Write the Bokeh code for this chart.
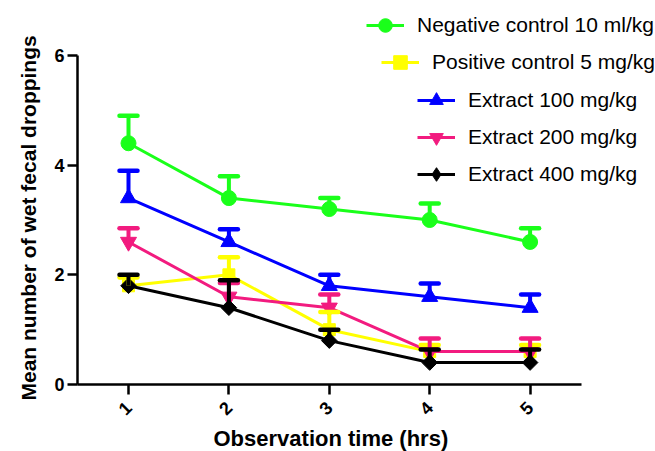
import math
from bokeh.plotting import figure
from bokeh.models import (ColumnDataSource, Range1d, Whisker, TeeHead, Legend,
                          LegendItem, FixedTicker, Title)
from bokeh.embed import file_html
from bokeh.resources import INLINE

hours = [1, 2, 3, 4, 5]
neg_mean = [4.4, 3.4, 3.2, 3.0, 2.6]
neg_top = [4.9, 3.8, 3.4, 3.3, 2.85]
pos_mean = [1.8, 2.0, 1.0, 0.6, 0.6]
pos_top = [1.95, 2.32, 1.32, 0.72, 0.72]
e100_mean = [3.4, 2.6, 1.8, 1.6, 1.4]
e100_top = [3.9, 2.83, 2.0, 1.84, 1.64]
e200_mean = [2.6, 1.6, 1.4, 0.6, 0.6]
e200_top = [2.85, 1.85, 1.64, 0.84, 0.84]
e400_mean = [1.8, 1.4, 0.8, 0.4, 0.4]
e400_top = [2.0, 1.9, 1.0, 0.64, 0.64]

x_title = "Observation time (hrs)"
y_title = "Mean number of wet fecal droppings"

series = [
    ("Negative control 10 ml/kg", neg_mean, neg_top, "#1aff1a", "circle", 15, 0.0, None),
    ("Positive control 5 mg/kg", pos_mean, pos_top, "#ffff00", "square", 12, 0.0, None),
    ("Extract 100 mg/kg", e100_mean, e100_top, "#0000ff", "triangle", 16, 0.0, None),
    ("Extract 200 mg/kg", e200_mean, e200_top, "#f21b7f", "inverted_triangle", 16, 0.0, None),
    ("Extract 400 mg/kg", e400_mean, e400_top, "#000000", "square", 11, math.pi / 4, "diamond"),
]

# legend placement (frame px, origin bottom-left)
legend_pos = [(289, 342, 13), (304, 305, 13), (340, 267, 13), (340, 230, 13), (340, 193, 13)]

x_px_per_unit = 100.4
y_px_per_unit = 54.83
W, H = 655, 451
left_b, bottom_b, top_b, right_b = 77, 67, 2, 0
frame_w = W - left_b - right_b
frame_h = H - bottom_b - top_b
x0 = 1 - (128 - 77) / x_px_per_unit
x1 = x0 + frame_w / x_px_per_unit
y1 = frame_h / y_px_per_unit

p = figure(width=W, height=H, output_backend="svg", toolbar_location=None,
           x_range=Range1d(x0, x1), y_range=Range1d(0, y1),
           min_border_left=left_b, min_border_right=right_b,
           min_border_top=top_b, min_border_bottom=bottom_b)
p.outline_line_color = None
p.grid.visible = False

FONT = "Liberation Sans"
for ax in (p.xaxis[0], p.yaxis[0]):
    ax.axis_line_width = 2.5
    ax.axis_line_color = "black"
    ax.major_tick_line_width = 2.5
    ax.major_tick_line_color = "black"
    ax.major_tick_out = 10
    ax.major_tick_in = 0
    ax.minor_tick_line_color = None
    ax.major_label_text_font = FONT
    ax.major_label_text_font_style = "bold"
    ax.major_label_text_color = "black"

p.xaxis.ticker = FixedTicker(ticks=hours)
p.xaxis.bounds = (x0, 5.51)
p.xaxis.major_label_orientation = math.pi / 4
p.xaxis.major_label_text_font_size = "18px"
p.xaxis.major_label_standoff = 10

p.yaxis.ticker = FixedTicker(ticks=[0, 2, 4, 6])
p.yaxis.bounds = (0, 6)
p.yaxis.major_label_text_font_size = "18px"
p.yaxis.major_label_standoff = 3

xt = Title(text=x_title, align="left", offset=136, standoff=0,
           text_font=FONT, text_font_size="22px", text_font_style="bold",
           text_color="black")
p.add_layout(xt, "below")
yt = Title(text=y_title, align="left", offset=-16, standoff=24,
           text_font=FONT, text_font_size="21px", text_font_style="bold",
           text_color="black")
p.add_layout(yt, "left")

for (label, mean, top, color, marker, size, angle, leg_marker), (lx, ly, st) in zip(series, legend_pos):
    src = ColumnDataSource(dict(x=hours, y=mean, top=top))
    wh = Whisker(source=src, base="x", lower="y", upper="top", dimension="height",
                 line_color=color, line_width=4,
                 upper_head=TeeHead(size=18, line_color=color, line_width=4.5, line_cap="round"),
                 lower_head=None, level="glyph")
    p.add_layout(wh)
    ln = p.line("x", "y", source=src, line_color=color, line_width=3)
    sc = p.scatter("x", "y", source=src, marker=marker, size=size, angle=angle,
                   fill_color=color, line_color=color)
    leg_renderers = [ln, sc]
    if leg_marker is not None:
        # legend-only marker, kept outside the visible range
        dummy = p.scatter(x=[-100], y=[-100], marker=leg_marker, size=size,
                          fill_color=color, line_color=color)
        leg_renderers = [ln, dummy]
    leg = Legend(items=[LegendItem(label=label, renderers=leg_renderers)],
                 location=(lx, ly), padding=0, margin=0, spacing=0,
                 glyph_width=38, glyph_height=34, label_standoff=st,
                 label_text_font=FONT, label_text_font_size="21px",
                 label_text_color="black",
                 border_line_color=None, background_fill_alpha=0)
    p.add_layout(leg)

open("out.html", "w").write(file_html(p, INLINE))
